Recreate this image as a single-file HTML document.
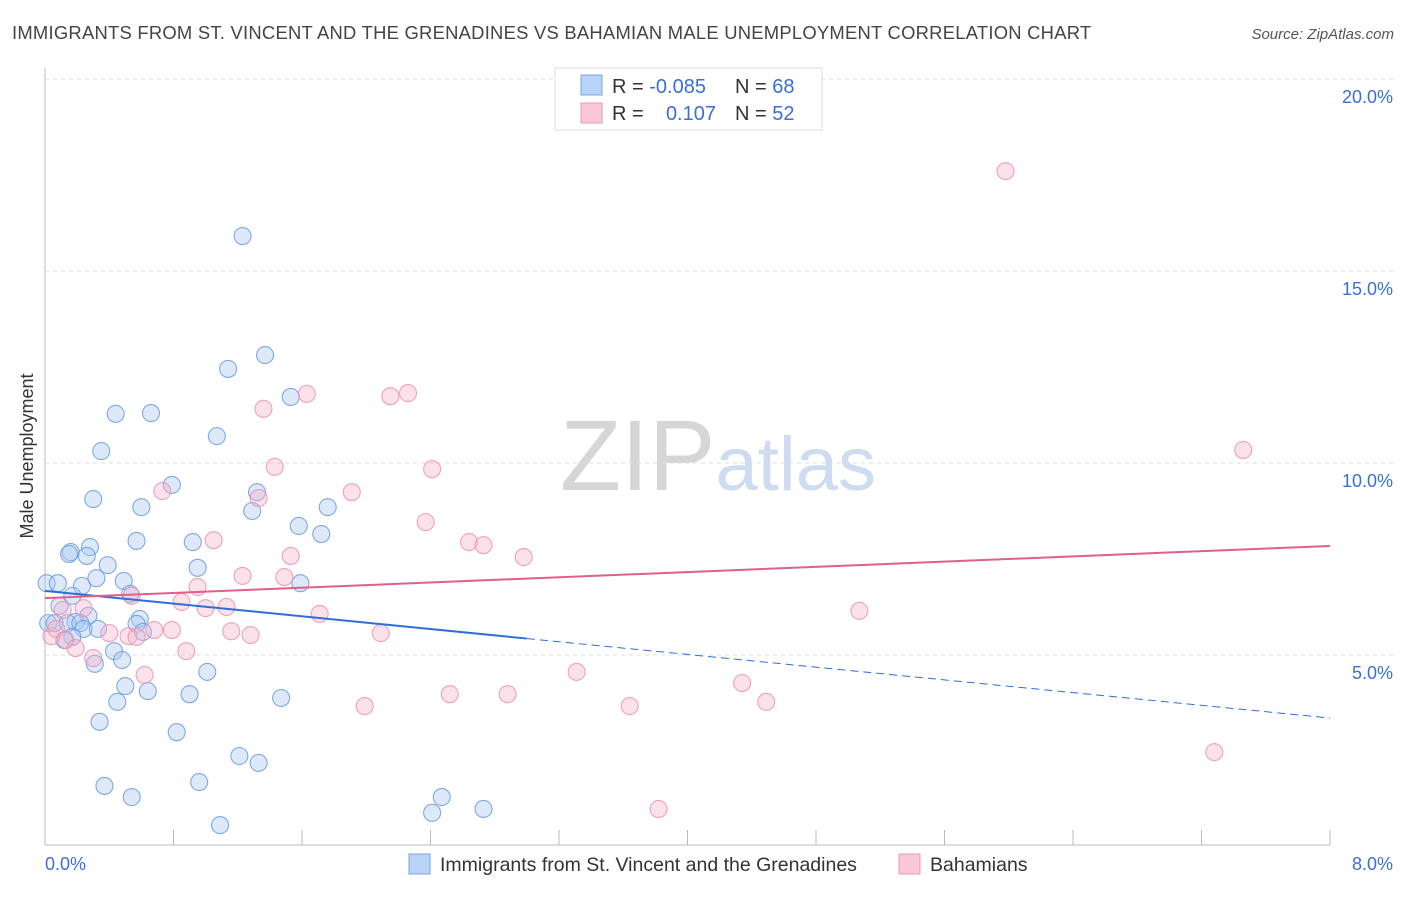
<!DOCTYPE html>
<html><head><meta charset="utf-8"><style>
body{margin:0;background:#fff;font-family:"Liberation Sans",sans-serif;}
svg text{font-family:"Liberation Sans",sans-serif;}
</style></head><body>
<svg id="chart" width="1406" height="892" xmlns="http://www.w3.org/2000/svg">
<text x="12" y="39" font-size="18.4" letter-spacing="0.25" fill="#444">IMMIGRANTS FROM ST. VINCENT AND THE GRENADINES VS BAHAMIAN MALE UNEMPLOYMENT CORRELATION CHART</text>
<text x="1394" y="39" font-size="15" fill="#555" text-anchor="end" font-style="italic">Source: ZipAtlas.com</text>
<text x="718" y="490" font-size="100" text-anchor="middle" fill="#ddd" font-family="Liberation Serif"><tspan fill="#d6d6d6">ZIP</tspan><tspan fill="#cddcf0" font-family="Liberation Sans" font-size="76">atlas</tspan></text>
<text transform="translate(33,456) rotate(-90)" font-size="18" fill="#333" text-anchor="middle">Male Unemployment</text>
<g id="grid"></g>
<g id="marks"></g>
<g>
<rect x="555" y="68" width="267" height="62" fill="#fff" stroke="#ddd"/>
<rect x="581" y="75" width="21" height="20" fill="#b8d3f5" stroke="#7aa6e6"/>
<rect x="581" y="103" width="21" height="20" fill="#f9c7d7" stroke="#ec9ab5"/>
<text x="612" y="93" font-size="20" fill="#333">R = <tspan fill="#3b6fd6">-0.085</tspan></text>
<text x="735" y="93" font-size="20" fill="#333">N = <tspan fill="#3b6fd6">68</tspan></text>
<text x="612" y="120" font-size="20" fill="#333">R = </text>
<text x="716" y="120" font-size="20" fill="#3b6fd6" text-anchor="end">0.107</text>
<text x="735" y="120" font-size="20" fill="#333">N = <tspan fill="#3b6fd6">52</tspan></text>
</g>
<g>
<rect x="409" y="854" width="21" height="20" fill="#b8d3f5" stroke="#7aa6e6"/>
<text x="440" y="871" font-size="19.5" fill="#333">Immigrants from St. Vincent and the Grenadines</text>
<rect x="899" y="854" width="21" height="20" fill="#f9c7d7" stroke="#ec9ab5"/>
<text x="930" y="871" font-size="19.5" fill="#333">Bahamians</text>
</g>
</svg>
<script>
const yTicks=[5,10,15,20];
const yTickLabels=["5.0%","10.0%","15.0%","20.0%"];
const xTickLabels=["0.0%","8.0%"];
const blueX=[1.23,1.37,1.14,0.44,0.66,1.53,1.07,0.35,0.79,0.30,1.32,0.60,1.29,1.76,1.58,1.72,0.16,0.28,0.15,0.57,0.92,0.26,0.39,0.95,0.32,0.49,0.01,0.08,1.59,0.23,0.53,0.17,0.09,0.27,0.19,0.59,0.02,0.06,0.14,0.22,0.57,0.61,0.24,0.33,0.17,0.12,0.43,0.48,0.31,1.01,0.50,0.64,0.90,1.47,0.45,0.34,0.82,1.21,1.33,0.37,0.96,0.54,2.47,2.73,2.41,1.09];
const blueY=[15.91,12.81,12.45,11.28,11.30,11.72,10.70,10.31,9.43,9.06,9.24,8.85,8.75,8.85,8.36,8.15,7.68,7.81,7.63,7.97,7.94,7.58,7.34,7.27,7.00,6.93,6.87,6.87,6.87,6.80,6.59,6.54,6.28,6.02,5.86,5.94,5.83,5.83,5.83,5.83,5.81,5.60,5.68,5.68,5.47,5.39,5.10,4.87,4.77,4.56,4.19,4.06,3.98,3.88,3.78,3.26,2.99,2.37,2.19,1.59,1.69,1.30,1.30,0.99,0.89,0.57];
const pinkX=[5.98,1.36,1.63,2.15,2.26,1.43,2.41,0.73,1.33,1.91,2.37,1.05,2.64,2.73,2.98,1.53,1.23,1.49,0.95,0.85,0.54,0.11,0.24,1.00,1.13,1.71,5.07,0.40,0.52,0.57,0.68,0.79,1.16,1.28,2.09,0.04,0.07,0.13,0.19,0.30,0.88,0.62,3.31,4.34,2.52,2.88,1.99,3.64,4.49,7.28,3.82,7.46];
const pinkY=[17.60,11.41,11.80,11.74,11.82,9.90,9.84,9.27,9.09,9.24,8.46,7.99,7.94,7.86,7.55,7.58,7.06,7.03,6.77,6.38,6.54,6.17,6.22,6.22,6.25,6.07,6.15,5.57,5.49,5.47,5.65,5.65,5.62,5.52,5.57,5.49,5.68,5.39,5.18,4.92,5.10,4.48,4.56,4.27,3.98,3.98,3.67,3.67,3.78,2.47,0.99,10.34];
const blueTrend=[6.67,-0.414];
const pinkTrend=[6.48,0.17];
const X=v=>45+v/8*1285, Y=v=>847-v/5*192;
const NS="http://www.w3.org/2000/svg";
function mk(parent,tag,attrs){const e=document.createElementNS(NS,tag);for(const k in attrs)e.setAttribute(k,attrs[k]);parent.appendChild(e);return e;}
const grid=document.getElementById('grid'),marks=document.getElementById('marks');
let ax=mk(grid,'line',{x1:45,y1:68,x2:45,y2:845,stroke:'#bbb'});


let bx=mk(grid,'line',{x1:45,y1:845,x2:1330,y2:845,stroke:'#bbb'});


yTicks.forEach((t,i)=>{
 const g=mk(grid,'line',{x1:45,x2:1395,y1:Y(t),y2:Y(t),stroke:'#ddd','stroke-dasharray':'4,4'});
 
 
 const l=mk(grid,'text',{x:1393,y:Y(t)+24,'font-size':18,fill:'#3b6fd6','text-anchor':'end'});l.textContent=yTickLabels[i];
 
 
});
for(let i=1;i<=10;i++){const t=mk(grid,'line',{x1:X(i*0.8),x2:X(i*0.8),y1:830,y2:845,stroke:'#bbb'});
 
 }
[[0,45,'start'],[8,1393,'end']].forEach((d,i)=>{const l=mk(grid,'text',{x:d[1],y:870,'font-size':18,fill:'#3b6fd6','text-anchor':d[2]});l.textContent=xTickLabels[i];
 
 });
function pts(xs,ys,fill,stroke,name){xs.forEach((x,i)=>{const c=mk(marks,'circle',{cx:X(x),cy:Y(ys[i]),r:8.5,fill:fill,'fill-opacity':0.4,stroke:stroke,'stroke-opacity':0.85,'stroke-width':1.1});
 
 });}
pts(blueX,blueY,'#a9c8f0','#6b9be0','point-immigrants');
pts(pinkX,pinkY,'#f5b5ca','#ea93b0','point-bahamians');
const bt=v=>blueTrend[0]+blueTrend[1]*v, pt=v=>pinkTrend[0]+pinkTrend[1]*v;
let l1=mk(marks,'line',{x1:X(0),y1:Y(bt(0)),x2:X(3),y2:Y(bt(3)),stroke:'#2d6fd6','stroke-width':2});


let l2=mk(marks,'line',{x1:X(3),y1:Y(bt(3)),x2:X(8),y2:Y(bt(8)),stroke:'#2d6fd6','stroke-width':1,'stroke-dasharray':'8,5'});


let l3=mk(marks,'line',{x1:X(0),y1:Y(pt(0)),x2:X(8),y2:Y(pt(8)),stroke:'#e0608a','stroke-width':2});


</script>
</body></html>
